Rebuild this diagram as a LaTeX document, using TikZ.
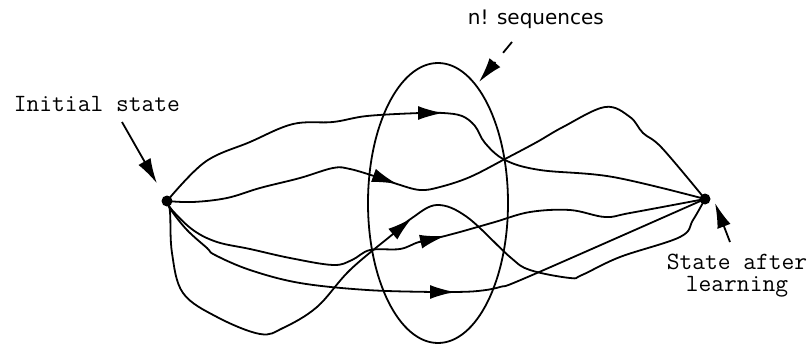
\documentclass[tikz,border=0pt]{standalone}
\usepackage{fontspec}
\newfontfamily\labelsans{DejaVu Sans}
\usetikzlibrary{arrows.meta,shapes.geometric}

\begin{document}
\begin{tikzpicture}[x=0.5pt, y=-0.5pt, line width=0.9pt,
  dot/.style={circle, fill, inner sep=0pt, minimum size=5.5pt},
  mono/.style={inner sep=0pt, font=\ttfamily\fontsize{12.4}{11}\selectfont},
  arr/.style={-{Latex[length=12.5pt, width=7pt]}},
  trail/.style={smooth, tension=0.6}]
\useasboundingbox (0,0) rectangle (811,348);
\node[dot] (S) at (167,201) {};
\node[dot] (E) at (705,199) {};
\node[mono, anchor=base west] (init) at (13,112) {Initial state};
\node[mono, align=center] (after) at (737,276) {State after\\learning};
\node[inner sep=0pt, anchor=base west, font=\labelsans\fontsize{10}{12}\selectfont]
  (seq) at (467,25) {n! sequences};
\node[draw, ellipse, minimum width=70pt, minimum height=140pt, inner sep=0pt]
  (set) at (438,203) {};
\coordinate (ia) at (122,122);
\coordinate (sa) at (512,42);
\coordinate (sb) at (479,82);
\coordinate (ea) at (730,242);
\coordinate (eb) at (715,203);
\draw[arr, shorten >=7pt] (ia) -- (S);
\draw[arr, dash pattern=on 7pt off 6pt] (sa) -- (sb);
\draw[arr] (ea) -- (eb);
% the five orders
\draw plot[trail] coordinates {(S) (205,162) (250,142) (293,124) (333,122)
  (367,116) (420,113) (443,113) (462,116) (475,126) (485,143) (505,160)
  (540,170) (613,177) (E)};
\draw plot[trail] coordinates {(S) (193,202) (227,198) (260,188) (300,178)
  (333,168) (350,169) (377,177) (397,184) (420,190) (440,187) (470,177)
  (505,159) (537,142) (563,127) (605,107) (630,117) (643,133) (662,148) (E)};
\draw plot[trail] coordinates {(S) (172,210) (193,230) (217,242) (250,249)
  (290,258) (333,265) (352,260) (370,250) (400,249) (419,242) (445,236)
  (460,232) (495,222) (530,212) (570,210) (605,217) (630,213) (E)};
\draw plot[trail] coordinates {(S) (171,210) (187,230) (207,248) (215,255)
  (250,270) (300,283) (367,290) (432,292) (455,292) (478,291) (500,287)
  (530,276) (E)};
\draw plot[trail] coordinates {(S) (170,212) (172,253) (183,293) (217,317)
  (260,334) (283,328) (317,307) (350,270) (393,234) (412,218) (437,205)
  (467,217) (510,257) (530,270) (570,278) (582,275) (620,257) (680,237)
  (693,220) (E)};
% heads along the orders
\coordinate (b1) at (420,113);  \coordinate (a1) at (443,113);
\coordinate (b2) at (375,176);  \coordinate (a2) at (397,184);
\coordinate (b3) at (419,242);  \coordinate (a3) at (445,236);
\coordinate (b4) at (430,292);  \coordinate (a4) at (455,292);
\coordinate (b5) at (393,234);  \coordinate (a5) at (412,218);
\foreach \i in {1,...,5} \draw[arr] (b\i) -- (a\i);
\end{tikzpicture}
\end{document}
